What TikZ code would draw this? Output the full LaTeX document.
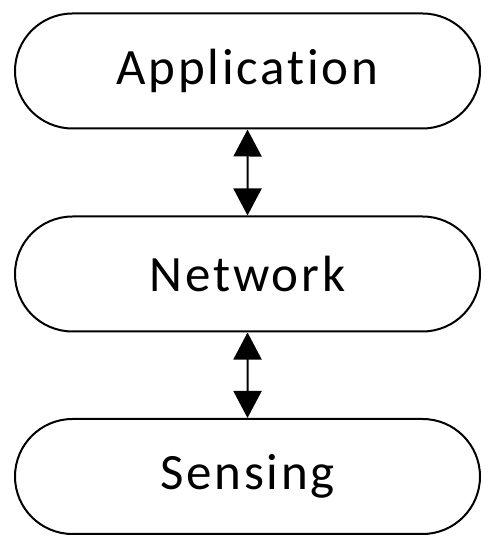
\documentclass[tikz,border=0pt]{standalone}
\usepackage{fontspec}
\setmainfont[Ligatures=NoCommon,LetterSpace=5.5]{Carlito}
\usetikzlibrary{shapes.misc,arrows.meta}
\tikzset{
  layer/.style={draw, rounded rectangle, line width=0.04cm, minimum width=9.3cm, minimum height=2.3cm, inner sep=0pt, font=\fontsize{29}{34}\selectfont},
  link/.style={line width=0.04cm, {Triangle[length=0.54cm,width=0.56cm]}-{Triangle[length=0.54cm,width=0.56cm]}}
}
\begin{document}
\begin{tikzpicture}
			\useasboundingbox (0,0) rectangle (9.78,11);
			%Layer nodes
			\node[layer] (App) at (4.95,9.58) {Application};
			\node[layer] (Net) at (4.95,5.52) {Network};
			\node[layer] (Sens) at (4.95,1.47) {Sensing};
			%Links between layers
			\draw[link] (App) -- (Net);
			\draw[link] (Net) -- (Sens);
		\end{tikzpicture}
\end{document}
